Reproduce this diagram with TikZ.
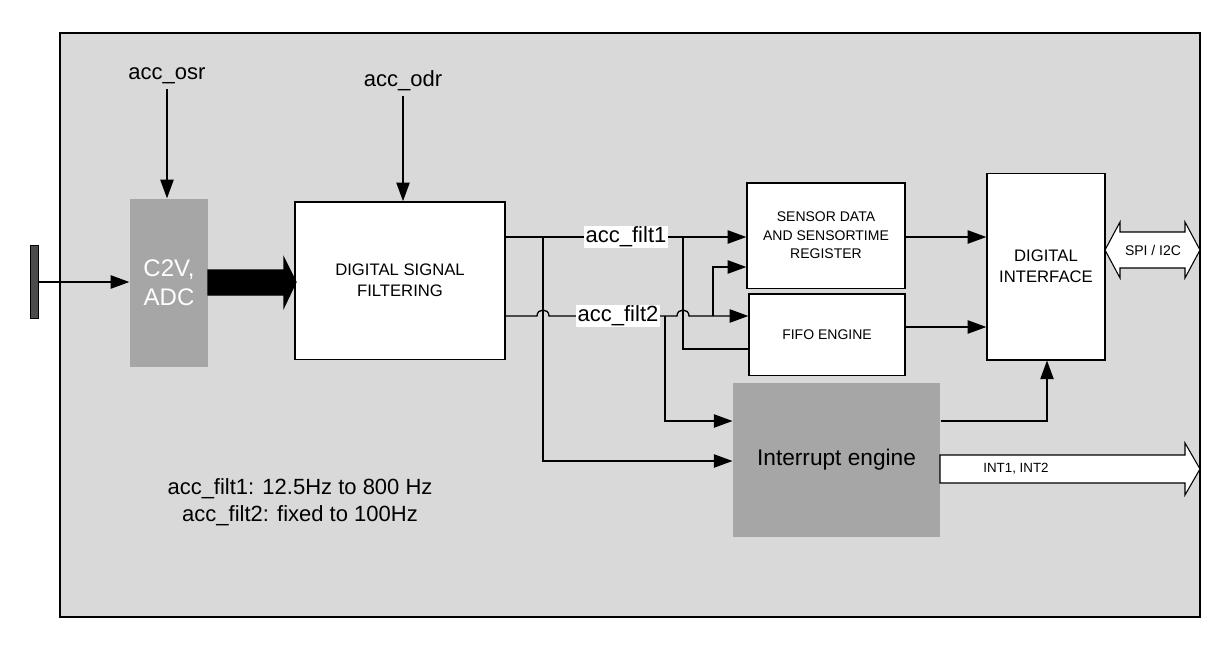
\documentclass[tikz,border=0pt]{standalone}
\usepackage{fontspec}
\setmainfont{Liberation Sans}
\usetikzlibrary{arrows.meta,shapes.arrows}
\begin{document}
\begin{tikzpicture}[x=0.75pt,y=-0.75pt,
  line width=1pt,
  tip/.style={-{Triangle[length=14pt,width=10pt]}},
  wbox/.style={draw,fill=white,line width=1pt,inner sep=0pt,align=center},
  lbl/.style={fill=white,inner sep=1pt,font=\fontsize{16.5}{19}\selectfont}]
\useasboundingbox (0,0) rectangle (1232,650);
\fill[white] (0,0) rectangle (1232,650);
\draw[fill=black!15] (60,33) rectangle (1200,617);
% electrode
\draw[fill=black!70,line width=0.6pt] (30,245) rectangle (38,318);
\node[fill=black!35,minimum width=58.5pt,minimum height=126pt,text=white,align=center,font=\fontsize{18}{22}\selectfont] (adc) at (169,283) {C2V,\\ADC};
\coordinate (el) at (38,282);
\draw[tip] (el) -- (adc.west|-el);
% DSF
\node[wbox,minimum width=157.5pt,minimum height=118pt,font=\fontsize{12.5}{16}\selectfont] (dsf) at (400,280.5) {DIGITAL SIGNAL\\FILTERING};
\draw[fill=black] (208,270) -- (284,270) -- (284,258) -- (296,282) -- (284,307) -- (284,295) -- (208,295) -- cycle;
% top labels
\node[font=\fontsize{16.5}{19}\selectfont] (osr) at (167,76) {acc\_osr};
\node[font=\fontsize{16.5}{19}\selectfont] (odr) at (403,81) {acc\_odr};
\draw[tip] (osr.south) -- (osr.south|-adc.north);
\draw[tip] (odr.south) -- (odr.south|-dsf.north);
% right boxes
\node[wbox,minimum width=118.5pt,minimum height=79pt,font=\fontsize{10.5}{14}\selectfont] (sen) at (826,235.5) {SENSOR DATA\\AND SENSORTIME\\REGISTER};
\node[wbox,minimum width=117pt,minimum height=61pt,font=\fontsize{10.5}{14}\selectfont] (fifo) at (827,334.5) {FIFO ENGINE};
\node[fill=black!35,minimum width=155pt,minimum height=115.5pt,font=\fontsize{17}{20}\selectfont] (irq) at (836.5,460) {Interrupt engine};
\node[wbox,minimum width=88.5pt,minimum height=140pt,font=\fontsize{12.5}{16}\selectfont] (dif) at (1046,266.5) {DIGITAL\\INTERFACE};
% filt1
\coordinate (f1s) at (505,237);
\draw[tip] (f1s) -- (sen.west|-f1s);
\node[lbl] (l1) at (626,237) {acc\_filt1};
% filt2 with hops
\draw[tip] (505,316) -- (537,316) .. controls (537,308) and (549,308) .. (549,316) -- (677,316) .. controls (677,308) and (689,308) .. (689,316) -- (fifo.west|-0,316);
\node[lbl] (l2) at (618,316) {acc\_filt2};
% branches
\draw[tip] (543,237) -- (543,461) -- (irq.west|-0,461);
\draw (683,237) -- (683,349) -- (fifo.west|-0,349);
\draw[tip] (665,316) -- (665,421) -- (irq.west|-0,421);
\draw[tip] (713,316) -- (713,267) -- (sen.west|-0,267);
% to interface
\draw[tip] (sen.east|-0,237) -- (dif.west|-0,237);
\draw[tip] (fifo.east|-0,327) -- (dif.west|-0,327);
\draw[tip] (irq.east|-0,421) -- (1047,421) -- (dif.south-|1047,0);
% SPI
\draw[line width=0.8pt,fill=white] (1105,250) -- (1120,222) -- (1120,232) -- (1185,232) -- (1185,222) -- (1200,250) -- (1185,278) -- (1185,268) -- (1120,268) -- (1120,278) -- cycle;
\node[font=\fontsize{10.5}{12}\selectfont] (spi) at (1153,250) {SPI / I2C};
% INT
\draw[line width=0.8pt,fill=white] (940,455) -- (1185,455) -- (1185,443) -- (1200,469) -- (1185,495) -- (1185,483) -- (940,483) -- cycle;
\node[font=\fontsize{10}{12}\selectfont] (int) at (1016,469) {INT1, INT2};
% notes
\node[align=center,font=\fontsize{16.5}{20}\selectfont] (note) at (300,502) {acc\_filt1: 12.5Hz to 800 Hz\\acc\_filt2: fixed to 100Hz};
\end{tikzpicture}
\end{document}
